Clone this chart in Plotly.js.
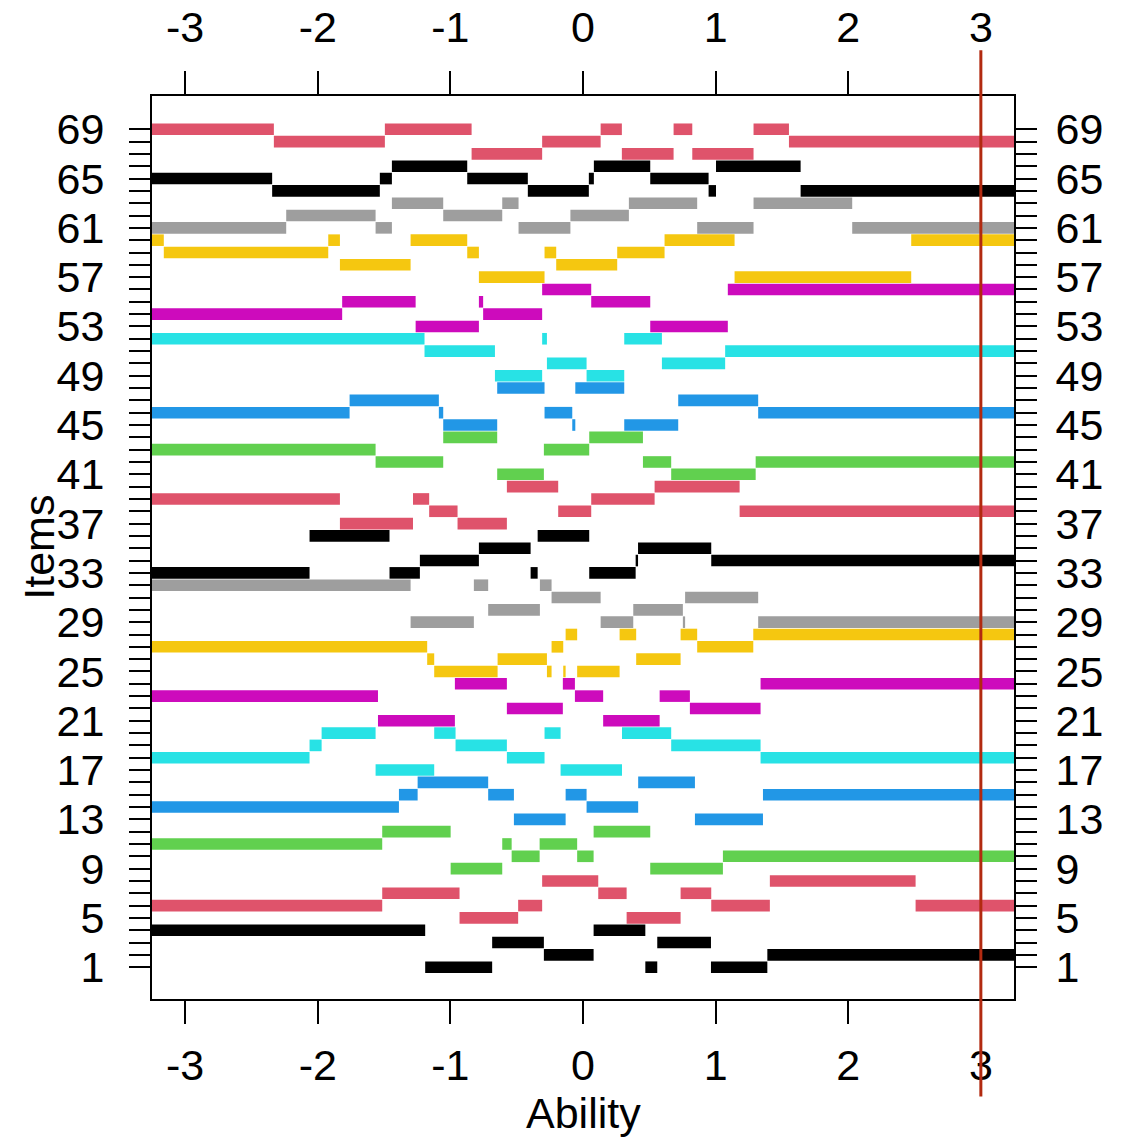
<!DOCTYPE html>
<html>
<head>
<meta charset="utf-8">
<script src="https://cdn.plot.ly/plotly-3.0.1.min.js"></script>
<style>
html,body{margin:0;padding:0;background:#ffffff;}
#chart{width:1135px;height:1138px;}
</style>
</head>
<body>
<div id="chart"></div>
<script>
// ---------- axis ticks ----------
const abilityTicks = [-3, -2, -1, 0, 1, 2, 3];
const itemTicks = [1,2,3,4,5,6,7,8,9,10,11,12,13,14,15,16,17,18,19,20,21,22,23,24,25,26,27,28,29,30,31,32,33,34,35,36,37,38,39,40,41,42,43,44,45,46,47,48,49,50,51,52,53,54,55,56,57,58,59,60,61,62,63,64,65,66,67,68,69];
const itemLabels = ["1","","","","5","","","","9","","","","13","","","","17","","","","21","","","","25","","","","29","","","","33","","","","37","","","","41","","","","45","","","","49","","","","53","","","","57","","","","61","","","","65","","","","69"];

// ---------- step data per item group (item shown between ability breaks) ----------
const g01Items  = [4,1,3,2,4,1,3,1,2];
const g01Breaks = [-3.3,-1.19,-0.685,-0.295,0.08,0.47,0.56,0.965,1.39,3.3];

const g02Items  = [6,7,5,6,8,7,5,7,6,8,6];
const g02Breaks = [-3.3,-1.514,-0.931,-0.489,-0.308,0.115,0.329,0.736,0.967,1.409,2.508,3.3];

const g03Items  = [11,12,9,11,10,11,10,12,9,10];
const g03Breaks = [-3.3,-1.514,-0.998,-0.609,-0.538,-0.327,-0.044,0.08,0.507,1.055,3.3];

const g04Items  = [14,15,16,15,13,15,14,16,13,15];
const g04Breaks = [-3.3,-1.388,-1.247,-0.715,-0.521,-0.131,0.027,0.416,0.844,1.357,3.3];

const g05Items  = [18,19,20,17,20,19,18,20,17,20,19,18];
const g05Breaks = [-3.3,-2.062,-1.971,-1.564,-1.122,-0.961,-0.574,-0.29,-0.169,0.294,0.665,1.339,3.3];

const g06Items  = [23,21,24,22,24,23,21,23,22,24];
const g06Breaks = [-3.3,-1.546,-0.966,-0.574,-0.152,-0.061,0.152,0.578,0.806,1.339,3.3];

const g07Items  = [27,26,25,26,25,27,25,28,25,28,26,28,27,28];
const g07Breaks = [-3.3,-1.175,-1.122,-0.644,-0.272,-0.237,-0.149,-0.131,-0.044,0.276,0.401,0.736,0.861,1.284,3.3];

const g08Items  = [32,29,32,30,32,31,29,30,29,31,29];
const g08Breaks = [-3.3,-1.30,-0.823,-0.715,-0.325,-0.237,0.133,0.379,0.753,0.77,1.321,3.3];

const g09Items  = [33,36,33,34,35,33,36,33,34,35,34];
const g09Breaks = [-3.3,-2.062,-1.459,-1.23,-0.785,-0.395,-0.342,0.047,0.397,0.415,0.967,3.3];

const g10Items  = [39,37,39,38,37,40,38,39,40,38];
const g10Breaks = [-3.3,-1.833,-1.282,-1.16,-0.946,-0.574,-0.187,0.062,0.54,1.181,3.3];

const g11Items  = [43,42,44,41,43,44,42,41,42];
const g11Breaks = [-3.3,-1.564,-1.054,-0.647,-0.295,0.047,0.452,0.665,1.302,3.3];

const g12Items  = [46,47,46,45,48,46,45,48,45,47,46];
const g12Breaks = [-3.3,-1.76,-1.087,-1.054,-0.647,-0.29,-0.081,-0.058,0.311,0.718,1.321,3.3];

const g13Items  = [52,51,49,52,50,49,52,50,51];
const g13Breaks = [-3.3,-1.195,-0.664,-0.308,-0.272,0.027,0.311,0.595,1.072,3.3];

const g14Items  = [54,55,53,55,54,56,55,53,56];
const g14Breaks = [-3.3,-1.816,-1.262,-0.785,-0.753,-0.308,0.062,0.507,1.092,3.3];

const g15Items  = [60,59,60,58,60,59,57,59,58,59,60,57,60];
const g15Breaks = [-3.3,-3.161,-1.921,-1.833,-1.30,-0.873,-0.785,-0.29,-0.202,0.258,0.615,1.143,2.475,3.3];

const g16Items  = [61,62,61,63,62,63,61,62,63,61,63,61];
const g16Breaks = [-3.3,-2.238,-1.564,-1.441,-1.054,-0.609,-0.486,-0.095,0.346,0.861,1.286,2.03,3.3];

const g17Items  = [65,64,65,66,65,64,65,66,65,64,66,64];
const g17Breaks = [-3.3,-2.344,-1.532,-1.441,-0.873,-0.416,0.044,0.082,0.507,0.947,1.003,1.641,3.3];

const g18Items  = [69,68,69,67,68,69,67,69,67,69,68];
const g18Breaks = [-3.3,-2.331,-1.494,-0.84,-0.308,0.133,0.293,0.683,0.824,1.286,1.553,3.3];

const palette = ["#000000","#DF536B","#61D04F","#2297E6","#28E2E5","#CD0BBC","#F5C710","#9E9E9E"];
const referenceAbility = 3;

// ---------- build traces ----------
const groups = [
  [g01Breaks,g01Items],[g02Breaks,g02Items],[g03Breaks,g03Items],[g04Breaks,g04Items],
  [g05Breaks,g05Items],[g06Breaks,g06Items],[g07Breaks,g07Items],[g08Breaks,g08Items],
  [g09Breaks,g09Items],[g10Breaks,g10Items],[g11Breaks,g11Items],[g12Breaks,g12Items],
  [g13Breaks,g13Items],[g14Breaks,g14Items],[g15Breaks,g15Items],[g16Breaks,g16Items],
  [g17Breaks,g17Items],[g18Breaks,g18Items]
];

const traces = groups.map(function(g, gi){
  const br = g[0], it = g[1];
  const xs = [], ys = [];
  for (let i = 0; i < it.length; i++) {
    xs.push(br[i], br[i+1], null);
    ys.push(it[i], it[i], null);
  }
  return {
    type: 'scatter', mode: 'lines', x: xs, y: ys,
    line: {color: palette[gi % palette.length], width: 11.6},
    connectgaps: false, hoverinfo: 'skip', showlegend: false
  };
});
// helper trace to activate top/right axes
traces.push({type:'scatter', mode:'markers', x:[null], y:[null], xaxis:'x2', yaxis:'y2', showlegend:false, hoverinfo:'skip'});

const FONT = 'Liberation Sans, Arial, Helvetica, sans-serif';
const xRange = [-3.25, 3.25];
const yRange = [-1.58, 71.7];

const xCommon = {
  range: xRange, tickmode: 'array', tickvals: abilityTicks, ticktext: abilityTicks.map(String),
  ticks: 'outside', ticklen: 23, tickwidth: 2, tickcolor: '#000',
  showline: true, linewidth: 2, linecolor: '#000',
  showgrid: false, zeroline: false, fixedrange: true,
  tickfont: {family: FONT, size: 43, color: '#000'}
};
const yCommon = {
  range: yRange, tickmode: 'array', tickvals: itemTicks, ticktext: itemLabels,
  ticks: 'outside', ticklen: 21, tickwidth: 2, tickcolor: '#000',
  showline: true, linewidth: 2, linecolor: '#000',
  showgrid: false, zeroline: false, fixedrange: true,
  tickfont: {family: FONT, size: 43, color: '#000'}
};

const layout = {
  width: 1135, height: 1138,
  margin: {l: 152, r: 121, t: 96, b: 139, pad: 0},
  paper_bgcolor: '#fff', plot_bgcolor: '#fff',
  showlegend: false,
  font: {family: FONT, color: '#000'},
  xaxis: Object.assign({}, xCommon, {side: 'bottom', ticklabelstandoff: 4}),
  xaxis2: Object.assign({}, xCommon, {side: 'top', overlaying: 'x', ticklabelstandoff: 12}),
  yaxis: Object.assign({}, yCommon, {side: 'left', ticklabelstandoff: 16}),
  yaxis2: Object.assign({}, yCommon, {side: 'right', overlaying: 'y', ticklabelstandoff: 10}),
  shapes: [{
    type: 'line', xref: 'x', yref: 'paper',
    x0: referenceAbility, x1: referenceAbility, y0: -0.108, y1: 1.0507,
    line: {color: '#B22A10', width: 3}
  }],
  annotations: [
    {text: 'Ability', xref: 'paper', yref: 'paper', x: 0.501, y: -0.1257,
     xanchor: 'center', yanchor: 'middle', showarrow: false,
     font: {family: FONT, size: 43, color: '#000'}},
    {text: 'Items', xref: 'paper', yref: 'paper', x: -0.132, y: 0.5,
     xanchor: 'center', yanchor: 'middle', textangle: -90, showarrow: false,
     font: {family: FONT, size: 43, color: '#000'}}
  ]
};

Plotly.newPlot('chart', traces, layout, {displayModeBar: false, staticPlot: true});
</script>
</body>
</html>
